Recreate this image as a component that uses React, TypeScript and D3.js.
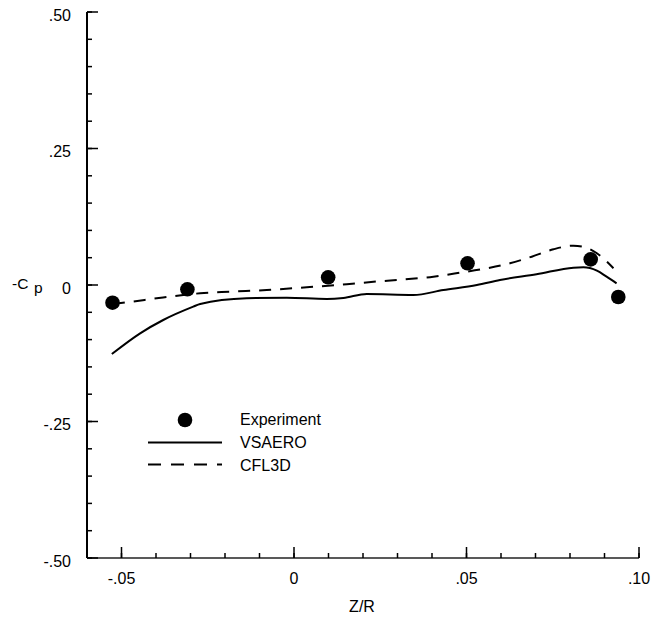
import React from "react";
import * as d3 from "d3";

// Experiment: Z/R and -Cp
const expZ = [-0.0526, -0.0309, 0.0099, 0.0503, 0.086, 0.094];
const expCp = [-0.0324, -0.0079, 0.0141, 0.0397, 0.047, -0.022];

// VSAERO prediction
const vsZ = [-0.0528, -0.0446, -0.0379, -0.0292, -0.0272, -0.0137, -0.0021, 0.0095, 0.0143, 0.0211, 0.0346, 0.0433, 0.053, 0.0597, 0.0703, 0.081, 0.0839, 0.0878, 0.0906, 0.0935];
const vsCp = [-0.1264, -0.0885, -0.0641, -0.0397, -0.0348, -0.0244, -0.0233, -0.0256, -0.0238, -0.0165, -0.0183, -0.0092, 0.0, 0.0092, 0.0196, 0.0317, 0.0324, 0.0262, 0.0152, 0.0031];

// CFL3D prediction
const cfZ = [-0.0525, -0.047, -0.0398, -0.0272, -0.0186, -0.0079, 0.0037, 0.0153, 0.024, 0.0298, 0.0404, 0.0481, 0.0559, 0.0626, 0.0689, 0.0752, 0.081, 0.0839, 0.0878, 0.0926];
const cfCp = [-0.0348, -0.0306, -0.0244, -0.0152, -0.0123, -0.0092, -0.0042, 0.0013, 0.0064, 0.0092, 0.0152, 0.0225, 0.0306, 0.0397, 0.0518, 0.0654, 0.072, 0.0701, 0.0581, 0.0306];

const xMajor = [-0.05, 0, 0.05, 0.1];
const xMajorLabels = ["-.05", "0", ".05", ".10"];
const yMajor = [0.5, 0.25, 0, -0.25, -0.5];
const yMajorLabels = [".50", ".25", "0", "-.25", "-.50"];

const legendItems = ["Experiment", "VSAERO", "CFL3D"];

export default function App() {
  const W = 655;
  const H = 621;
  const x = d3.scaleLinear().domain([-0.06, 0.1]).range([87, 639]);
  const y = d3.scaleLinear().domain([-0.5, 0.5]).range([558, 12]);

  const line = d3
    .line<[number, number]>()
    .x((d) => x(d[0]))
    .y((d) => y(d[1]))
    .curve(d3.curveMonotoneX);

  const vsPts = vsZ.map((z, i) => [z, vsCp[i]] as [number, number]);
  const cfPts = cfZ.map((z, i) => [z, cfCp[i]] as [number, number]);

  const xMinor = d3.range(-6, 11).map((k) => k / 100);
  const yMinor = d3.range(-10, 11).map((k) => k / 20);

  const font = "'Liberation Sans', Arial, Helvetica, sans-serif";

  return (
    <svg
      width={W}
      height={H}
      style={{ position: "absolute", left: 0, top: 0, background: "#fff" }}
      fontFamily={font}
    >
      <rect width={W} height={H} fill="#fff" />
      {/* axes */}
      <line x1={x(-0.06)} x2={x(-0.06)} y1={y(0.5)} y2={y(-0.5)} stroke="#000" strokeWidth={2} />
      <line x1={x(-0.06)} x2={x(0.1)} y1={y(-0.5)} y2={y(-0.5)} stroke="#222" strokeWidth={1.5} />

      {yMinor.map((v, i) => (
        <line key={"ym" + i} x1={x(-0.06)} x2={x(-0.06) + 5} y1={y(v)} y2={y(v)} stroke="#000" strokeWidth={1.5} />
      ))}
      {yMajor.map((v, i) => (
        <g key={"yM" + i}>
          <line x1={x(-0.06)} x2={x(-0.06) + 11} y1={y(v)} y2={y(v)} stroke="#000" strokeWidth={1.5} />
          <text x={71} y={y(v) + 8.5} textAnchor="end" fontSize={16}>
            {yMajorLabels[i]}
          </text>
        </g>
      ))}

      {xMinor.map((v, i) => (
        <line key={"xm" + i} x1={x(v)} x2={x(v)} y1={y(-0.5)} y2={y(-0.5) - 5} stroke="#000" strokeWidth={1.5} />
      ))}
      {xMajor.map((v, i) => (
        <g key={"xM" + i}>
          <line x1={x(v)} x2={x(v)} y1={y(-0.5)} y2={y(-0.5) - 11} stroke="#000" strokeWidth={1.5} />
          <text x={x(v)} y={584} textAnchor="middle" fontSize={16}>
            {xMajorLabels[i]}
          </text>
        </g>
      ))}

      {/* axis titles */}
      <text x={362} y={612} textAnchor="middle" fontSize={16}>
        Z/R
      </text>
      <text x={12} y={289} fontSize={15.5}>
        -C
      </text>
      <text x={34} y={293} fontSize={15.5}>
        p
      </text>

      {/* data */}
      <path d={line(vsPts) || ""} fill="none" stroke="#000" strokeWidth={2} />
      <path d={line(cfPts) || ""} fill="none" stroke="#000" strokeWidth={2} strokeDasharray="12 9" />
      {expZ.map((z, i) => (
        <circle key={"e" + i} cx={x(z)} cy={y(expCp[i])} r={7.3} fill="#000" />
      ))}

      {/* legend */}
      <circle cx={185} cy={420} r={7.3} fill="#000" />
      <line x1={148} x2={222} y1={442.5} y2={442.5} stroke="#000" strokeWidth={2} />
      <line x1={148} x2={222} y1={464.5} y2={464.5} stroke="#000" strokeWidth={2} strokeDasharray="13 10" />
      {legendItems.map((t, i) => (
        <text key={t} x={240} y={425 + i * 23} fontSize={16}>
          {t}
        </text>
      ))}
    </svg>
  );
}
